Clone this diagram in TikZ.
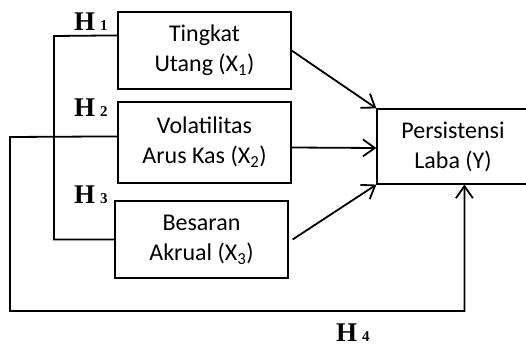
\documentclass[tikz,border=0pt]{standalone}
\usepackage{fontspec}
\setmainfont{Carlito}
\newfontfamily\hfont{Liberation Serif}
\usetikzlibrary{arrows.meta,calc}
\tikzset{
  box/.style={draw, line width=1.2pt, inner sep=0pt, align=center, font=\fontsize{24}{30}\selectfont},
  conn/.style={line width=1.8pt},
  arr/.style={conn, -{Straight Barb[length=12pt,width=17pt,line width=1.8pt]}},
  hlab/.style={anchor=base west, inner sep=0pt, font=\hfont\bfseries\fontsize{27}{27}\selectfont}
}
\newcommand{\hnum}[1]{H\hspace{5pt}{\fontsize{15}{15}\selectfont #1}}
\begin{document}
\begin{tikzpicture}[x=1pt,y=-1pt]
\useasboundingbox (0,0) rectangle (526,347);
\clip (0,0) rectangle (526,347);
\node[box, minimum width=173pt, minimum height=77pt] (b1) at (204.5,50.5) {Tingkat\\Utang (X\textsubscript{1})};
\node[box, minimum width=173pt, minimum height=81pt] (b2) at (204.5,142.5) {Volatilitas\\Arus Kas (X\textsubscript{2})};
\node[box, minimum width=173pt, minimum height=77pt] (b3) at (201.5,239.5) {Besaran\\Akrual (X\textsubscript{3})};
\node[box, minimum width=152pt, minimum height=75pt] (y) at (453,146.5) {Persistensi\\Laba (Y)};
% H labels
\node[hlab] (h1) at (74,31) {\hnum{1}};
\node[hlab] (h2) at (74,117) {\hnum{2}};
\node[hlab] (h3) at (74,203) {\hnum{3}};
\node[hlab] (h4) at (336,341) {\hnum{4}};
% bus H1-H3
\coordinate (p1) at ($(b1.north west)+(0,24)$);
\coordinate (j1) at (54,36);
\coordinate (j3) at (54,239.5);
\draw[conn] (p1) -- (j1) -- (j3) -- (b3.west);
% H4 loop
\coordinate (p2) at ($(b2.north west)+(0,35)$);
\coordinate (k1) at (10,137);
\coordinate (k2) at (10,311);
\coordinate (q) at ($(y.south west)+(88,0)$);
\draw[arr] (p2) -- (k1) -- (k2) -| (q);
% arrows into Y
\draw[arr] (b1.east) -- (y.north west);
\draw[arr] ($(b2.east)+(0,5)$) -- ($(y.west)+(0,1.5)$);
\draw[arr] ($(b3.east)+(4,0)$) -- (y.south west);
\end{tikzpicture}
\end{document}
